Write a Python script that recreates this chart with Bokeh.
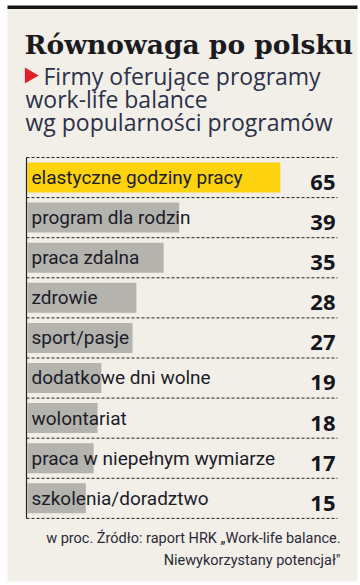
from bokeh.plotting import figure
from bokeh.models import Range1d, ColumnDataSource
from bokeh.core.properties import value
from bokeh.embed import file_html
from bokeh.resources import INLINE

# ---- data ----
categories = ["elastyczne godziny pracy", "program dla rodzin", "praca zdalna", "zdrowie",
              "sport/pasje", "dodatkowe dni wolne", "wolontariat",
              "praca w niepełnym wymiarze", "szkolenia/doradztwo"]
values = [65, 39, 35, 28, 27, 19, 18, 17, 15]
title = "Równowaga po polsku"
subtitle = ["Firmy oferujące programy", "work-life balance", "wg popularności programów"]
footer = ["w proc. Źródło: raport HRK „Work-life balance.", "Niewykorzystany potencjał\""]

# ---- layout ----
W, H = 358, 583
PPU = 3.89      # pixels per percent
X0 = 27         # pixel position of value 0
ROW0, PITCH = 177, 40.1
BG = "#f2efe9"

def vx(px):
    return (px - X0) / PPU

def ty(baseline, size):
    # correct for where the renderer puts the alphabetic baseline
    return baseline - 0.32 * size

p = figure(width=W, height=H, output_backend="svg", toolbar_location=None,
           x_range=Range1d(vx(0), vx(W)), y_range=Range1d(H, 0),
           min_border=0, background_fill_color="white", border_fill_color="white",
           outline_line_color=None)
p.axis.visible = False
p.grid.visible = False

# panel + top black bar
p.quad(left=vx(7), right=vx(357), top=8, bottom=581, color=BG, line_color=None)
p.quad(left=vx(7), right=vx(357), top=5, bottom=8.5, color="#151515", line_color=None)

# title
p.text(x=[vx(24)], y=[ty(52, 26.5)], text=[title], text_font=value("DejaVu Serif"),
       text_font_style="bold", text_font_size="26.5px", text_color="#1b1a1f",
       text_baseline="alphabetic")

# subtitle
p.scatter(x=[vx(29)], y=[75], marker="triangle", size=16, angle=-1.5708,
          color="#e0202a", line_color=None)
sub_x = [vx(43), vx(25), vx(25)]
sub_y = [ty(83, 23), ty(106, 23), ty(129, 23)]
p.text(x=sub_x, y=sub_y, text=subtitle, text_font=value("Open Sans"),
       text_font_size="23px", text_color="#2c3048", text_baseline="alphabetic")

# rows
centers = [ROW0 + PITCH * i for i in range(len(values))]
colors = ["#fdd20e"] + ["#b4b3ae"] * (len(values) - 1)
src = ColumnDataSource(dict(cat=categories, val=values, y=centers, color=colors,
                            ly=[ty(c + 6, 19) for c in centers],
                            ny=[ty(c + 12, 22) for c in centers],
                            lbl=[str(v) for v in values]))

# dashed separators
dash_y = [ROW0 - 20 + PITCH * i for i in range(len(values) + 1)]
p.segment(x0=vx(26), x1=vx(337), y0=dash_y, y1=dash_y, line_color="#222222",
          line_width=1, line_dash="3 2")

p.hbar(y="y", left=0, right="val", height=30, color="color", line_color=None, source=src)

# vertical axis line
p.segment(x0=[vx(26)], x1=[vx(26)], y0=[dash_y[0]], y1=[dash_y[-1]],
          line_color="#222222", line_width=1.2)

p.text(x=vx(31), y="ly", text="cat", source=src, text_font=value("Roboto"),
       text_font_size="19px", text_color="#1c1c28", text_baseline="alphabetic")
p.text(x=vx(335), y="ny", text="lbl", source=src, text_font=value("Open Sans"),
       text_font_style="bold", text_font_size="22px", text_color="#15151c",
       text_align="right", text_baseline="alphabetic")

# footer
p.text(x=[vx(340), vx(340)], y=[ty(543, 14.5), ty(565, 14.5)], text=footer,
       text_font=value("Roboto"), text_font_size="14.5px", text_color="#2a2a35",
       text_align="right", text_baseline="alphabetic")

open("out.html", "w").write(file_html(p, INLINE))
